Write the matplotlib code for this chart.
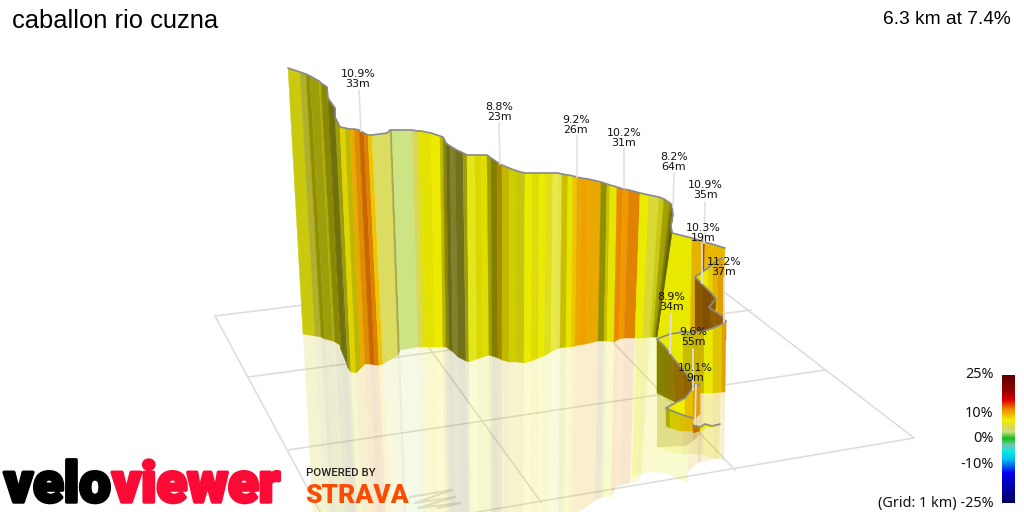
import numpy as np
import matplotlib
matplotlib.use('Agg')
import matplotlib.pyplot as plt
from matplotlib.colors import LinearSegmentedColormap, Normalize
from matplotlib.transforms import ScaledTranslation
import matplotlib.patheffects as pe

title = 'caballon rio cuzna'
summary = '6.3 km at 7.4%'

# main wall in image pixels
top_x = [288, 300, 306, 310, 319, 321, 327, 328, 335, 335, 340, 345, 350, 354, 359, 364, 368, 372, 387, 390, 392, 412,
         417, 421, 431, 440, 443, 446, 450, 455, 463, 467, 475, 481, 487, 491, 497, 502, 509, 517, 525, 532, 537, 539,
         546, 553, 558, 562, 568, 573, 577, 581, 588, 601, 607, 610, 617, 623, 629, 640, 649, 659, 664, 670, 672, 673,
         671, 672]
top_y = [68, 72, 74, 76, 81, 83, 87, 98, 108, 117, 127, 128, 129, 129, 130, 133, 135, 135, 133, 130, 130, 130,
         131, 131, 133, 136, 137, 143, 146, 149, 153, 155, 155, 155, 155, 158, 162, 165, 168, 171, 173, 173, 173, 173,
         173, 173, 173, 174, 175, 176, 177, 178, 179, 182, 184, 185, 187, 189, 190, 193, 195, 197, 199, 203, 205, 215,
         225, 233]
base_x = [303, 315, 321, 325, 333, 335, 340, 341, 346, 348, 351, 356, 361, 365, 370, 375, 379, 383, 395, 398, 400, 418,
          422, 426, 435, 443, 446, 449, 453, 458, 466, 469, 477, 483, 489, 492, 498, 502, 509, 517, 524, 531, 536, 538,
          544, 551, 556, 560, 566, 571, 575, 579, 586, 598, 604, 607, 614, 619, 624, 635, 643, 650, 653, 655, 656, 656,
          657, 657]
base_y = [334, 336, 337, 339, 341, 342, 345, 350, 362, 368, 372, 373, 368, 364, 364, 365, 365, 364, 357, 355, 350, 347,
          347, 347, 347, 347, 347, 349, 352, 357, 361, 362, 359, 357, 355, 356, 358, 360, 362, 362, 363, 361, 359, 358,
          356, 352, 349, 348, 347, 347, 346, 345, 344, 341, 341, 341, 342, 339, 338, 338, 338, 337, 337, 337, 337, 337,
          337, 337]
grade = [7, 5.5, 7.5, 7, 7, 7.5, 7.5, 6.5, 6.5, 7, 8, 8, 10, 11, 12, 11.4, 9, 4.2, 4.2, 4.2, 3,
         4.2, 6.5, 7.5, 7.5, 7.8, 7.8, 6, 5, 5.5, 7, 6.5, 7.5, 7.5, 7.5, 7.5, 9, 8, 7.5, 7, 7.5, 7.5, 7,
         7.5, 6.5, 5, 5, 8, 7.5, 9, 10, 10.7, 10, 7.5, 8, 7.5, 11.4, 11, 11.4, 7.5, 5.5, 6.5, 7.5, 7.5, 7.5,
         7.5, 7.5]
shade = [.85, .78, .6, .67, .73, .57, .57, .48, .48, .67, .93, .8, .97, .93, .85, .92, 1, 1.02, 1.02, .78, 1,
         1, .96, .95, .98, .78, .58, .47, .58, .5, .67, .98, .9, .93, .67, .53, .7, .8, .86, .84, .98, .93, .92,
         .98, .96, 1.05, 1.03, .84, .96, 1, .97, 1, .97, .6, .84, .96, .97, 1, .93, .98, .96, .86, .67, .53, .45,
         .42, .42]

# the folded part at the start of the climb, back to front
back_top_x = [640, 650, 665, 672, 692, 702, 705, 725]
back_top_y = [200, 202, 203, 233, 238, 241, 242, 248]
back_base_x = [636, 650, 665, 680, 690, 700, 703, 722]
back_base_y = [338, 337, 338, 358, 355, 352, 352, 353]
back_grade = [7.5, 7.5, 7.5, 7.5, 9.5, 12, 9.5]
back_shade = [.97, .97, .97, .97, .95, .7, .97]

upper_top_x = [695, 701, 708, 713, 718, 722]
upper_top_y = [277, 273, 268, 264, 260, 258]
upper_base_x = [695, 701, 708, 713, 718, 725]
upper_base_y = [332, 331, 330, 328, 325, 322]
upper_grade = [7.5, 7.5, 8.5, 9.5, 10]
upper_shade = [.96, .98, .97, .95, .92]

twist_top_x = [695, 703, 712, 716, 709, 714, 722, 726]
twist_top_y = [277, 285, 294, 299, 307, 311, 316, 322]
twist_base_x = [695, 703, 708, 712, 716, 720, 724, 726]
twist_base_y = [340, 340, 340, 340, 340, 340, 340, 340]
twist_grade = [11, 11.4, 10.5, 10.5, 10.5, 11.4, 11]
twist_shade = [.58, .55, .55, .55, .6, .62, .68]

front_top_x = [657, 670, 683, 693, 704, 713, 722, 726]
front_top_y = [339, 334, 332, 332, 331, 328, 324, 321]
front_base_x = [657, 670, 683, 693, 704, 713, 722, 725]
front_base_y = [393, 393, 393, 393, 393, 393, 392, 392]
front_grade = [7.5, 7.5, 7.8, 8.5, 7.5, 8.5, 10]
front_shade = [.97, .97, .82, .85, .97, .93, .93]

fold_top_x = [657, 665, 673, 683, 693, 697]
fold_top_y = [339, 347, 358, 370, 383, 387]
fold_base_x = [657, 665, 675, 684, 693, 697]
fold_base_y = [393, 397, 402, 408, 412, 412]
fold_grade = [7.8, 8.5, 10, 10.5, 10]
fold_shade = [.55, .58, .62, .6, .65]

rise_top_x = [666, 675, 685, 693, 700]
rise_top_y = [408, 403, 398, 388, 384]
rise_base_x = [666, 675, 685, 693, 700]
rise_base_y = [426, 427, 424, 420, 414]
rise_grade = [7.5, 7.5, 9, 10.5]
rise_shade = [.98, 1, .97, .95]

low_top_x = [666, 670, 680, 686, 693]
low_top_y = [408, 410, 414, 416, 418]
low_base_x = [666, 670, 680, 686, 693]
low_base_y = [426, 428, 431, 431, 431]
low_grade = [7.5, 8, 8.5, 9]
low_shade = [.72, .88, .9, .93]

end_top_x = [693, 700, 705, 712, 720]
end_top_y = [425, 427, 424, 426, 424]
end_base_x = [693, 700, 705, 712, 720]
end_base_y = [433, 431, 427, 427, 425]
end_grade = [11.5, 7.5, 7.5, 5]
end_shade = [.8, .95, 1, 1]

# climb labels and the ends of their leader lines
climb_pct = ['10.9%', '8.8%', '9.2%', '10.2%', '8.2%', '10.9%', '10.3%', '11.2%', '8.9%', '9.6%', '10.1%']
climb_len = ['33m', '23m', '26m', '31m', '64m', '35m', '19m', '37m', '34m', '55m', '9m']
climb_x = [358, 499, 576, 624, 674, 705, 703, 724, 671, 693, 695]
climb_y = [79, 112, 125, 138, 162, 190, 233, 267, 302, 337, 373]
leader_top_x = [359, 499, 577, 624, 674, 705, 702, 724, 671, 693, 696]
leader_top_y = [90, 123, 136, 148, 173, 202, 243, 278, 314, 349, 385]
leader_end_x = [361, 500, 577, 624, 673, 704, 702, 724, 670, 693, 695]
leader_end_y = [131, 164, 177, 188, 207, 243, 283, 322, 353, 390, 424]

# ground grid
grid_x0 = [215, 390, 548, 680, 215, 248, 288, 330]
grid_y0 = [316, 294, 274, 258, 316, 377, 450, 537]
grid_x1 = [330, 541, 735, 914, 680, 751, 825, 914]
grid_y1 = [530, 502, 470, 438, 258, 310, 370, 438]

scratch_x = [410, 452, 415, 455, 418, 460, 438]
scratch_y = [497, 490, 503, 497, 508, 503, 508]

# gradient colour scale
scale_grade = [-25, -13.3, -8, -4.9, -2.3, 0.3, 1.5, 3, 4.2, 7.5, 9, 11.4, 15.3, 18, 25]
scale_color = ['#000060', '#0000f0', '#00c0f0', '#10e8e0', '#70c8b0', '#10c010', '#70cc50', '#cce484', '#d8d860',
               '#f0f000', '#f0c800', '#f09000', '#e00000', '#a00000', '#5a0000']
tick_grade = [25, 10, 0, -10, -25]
tick_label = ['25%', '10%', '0%', '-10%', '(Grid: 1 km) -25%']

norm = Normalize(-25, 25)
cmap = LinearSegmentedColormap.from_list('grade', [(norm(g), c) for g, c in zip(scale_grade, scale_color)])


def band_color(g, s):
    return np.clip(np.array(cmap(norm(g))[:3]) * s, 0, 1)


def draw_wall(ax, tx, ty, bx, by, grades, shades):
    for i in range(len(grades)):
        c = band_color(grades[i], shades[i])
        ax.fill([tx[i], tx[i + 1], bx[i + 1], bx[i]], [ty[i], ty[i + 1], by[i + 1], by[i]],
                fc=c, ec=c, lw=0.3, zorder=3)
    ax.plot(tx, ty, c='#8a8a8a', lw=1.2, zorder=3, solid_capstyle='round')


def draw_reflection(ax, tx, ty, bx, by, grades, shades):
    tx, ty, bx, by = map(np.array, (tx, ty, bx, by))
    rx = 2 * bx - tx
    ry = 2 * by - ty
    for i in range(len(grades)):
        c = band_color(grades[i], shades[i])
        ax.fill([bx[i], bx[i + 1], rx[i + 1], rx[i]], [by[i], by[i + 1], ry[i + 1], ry[i]],
                fc=c, ec='none', alpha=0.19, zorder=2)


back = (back_top_x, back_top_y, back_base_x, back_base_y, back_grade, back_shade)
main = (top_x, top_y, base_x, base_y, grade, shade)
upper = (upper_top_x, upper_top_y, upper_base_x, upper_base_y, upper_grade, upper_shade)
twist = (twist_top_x, twist_top_y, twist_base_x, twist_base_y, twist_grade, twist_shade)
front = (front_top_x, front_top_y, front_base_x, front_base_y, front_grade, front_shade)
fold = (fold_top_x, fold_top_y, fold_base_x, fold_base_y, fold_grade, fold_shade)
rise = (rise_top_x, rise_top_y, rise_base_x, rise_base_y, rise_grade, rise_shade)
low = (low_top_x, low_top_y, low_base_x, low_base_y, low_grade, low_shade)
end = (end_top_x, end_top_y, end_base_x, end_base_y, end_grade, end_shade)
# the dark last bands of the main wall do not show in the mirror image
main_mirror = (top_x[:62], top_y[:62], base_x[:62], base_y[:62], grade[:61], shade[:61])

fig = plt.figure(figsize=(10.24, 5.12), dpi=100)
ax = fig.add_axes([0, 0, 1, 1])
ax.set_xlim(0, 1024)
ax.set_ylim(512, 0)
ax.axis('off')

for x0, y0, x1, y1 in zip(grid_x0, grid_y0, grid_x1, grid_y1):
    ax.plot([x0, x1], [y0, y1], c='#dcdcdc', lw=1.1, zorder=1)
ax.plot(scratch_x, scratch_y, c='#dedede', lw=1.5, zorder=1)

for w in [back, main_mirror, front, fold, end]:
    draw_reflection(ax, *w)
for w in [back, main, upper, twist, front, fold, rise, low, end]:
    draw_wall(ax, *w)

for x0, y0, x1, y1 in zip(leader_top_x, leader_top_y, leader_end_x, leader_end_y):
    ax.plot([x0, x1], [y0, y1], c='#e2e2e2', lw=1.2, zorder=4)
for x, y, p, l in zip(climb_x, climb_y, climb_pct, climb_len):
    ax.text(x, y, p + '\n' + l, ha='center', va='center', fontsize=7.9, linespacing=1.08,
            family='DejaVu Sans', color='#111111', zorder=5)

ax.text(12, 21, title, fontsize=18.4, family='Liberation Sans', va='center', ha='left', color='black')
ax.text(1011, 20, summary, fontsize=13.8, family='Liberation Sans', va='center', ha='right', color='black')

# logo
ax.text(4, 502, 'velo', fontsize=40.5, family='Roboto', weight='black', color='black', ha='left',
        va='baseline', zorder=6, path_effects=[pe.withStroke(linewidth=2.5, foreground='black')])
ax.text(112, 502, 'viewer', fontsize=40.5, family='Roboto', weight='black', color='#fb0a35', ha='left',
        va='baseline', zorder=6, path_effects=[pe.withStroke(linewidth=2.5, foreground='#fb0a35')])
ax.text(306, 473, 'POWERED BY', fontsize=8.2, family='Roboto', weight='medium', color='#222222',
        va='center', ha='left', zorder=6)
ax.text(305, 503, 'STRAVA', fontsize=19, family='Roboto', weight='black', color='#fc4c02',
        va='baseline', ha='left', zorder=6)

# colour bar
cax = fig.add_axes([1002 / 1024, 9 / 512, 13 / 1024, 128 / 512])
cax.imshow(np.linspace(25, -25, 256).reshape(-1, 1), cmap=cmap, norm=norm, aspect='auto', extent=[0, 1, -25, 25])
cax.set_xticks([])
cax.set_yticks(tick_grade)
cax.set_yticklabels(tick_label, fontsize=10.4, family='Noto Sans', color='#111111')
cax.tick_params(axis='y', length=0, pad=6)
nudge = ScaledTranslation(0, 2 / 100, fig.dpi_scale_trans)
for lab in cax.get_yticklabels():
    lab.set_transform(lab.get_transform() + nudge)
for s in cax.spines.values():
    s.set_visible(False)

fig.savefig('out.png', dpi=100)
